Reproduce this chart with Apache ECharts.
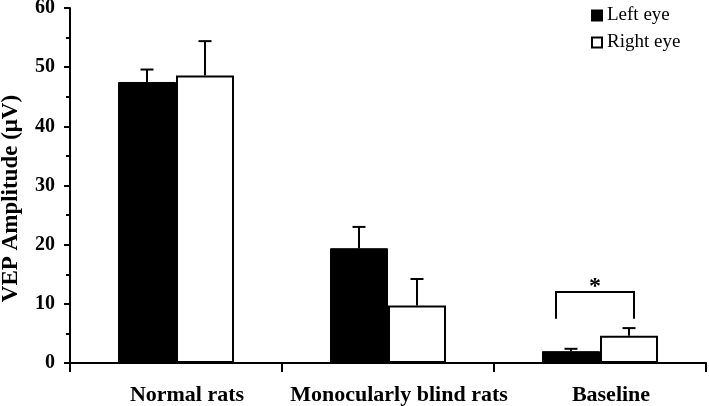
<!DOCTYPE html>
<html>
<head>
<meta charset="utf-8">
<script src="https://cdn.jsdelivr.net/npm/echarts@6/dist/echarts.min.js"></script>
<style>html,body{margin:0;padding:0;background:#fff}#c{width:709px;height:406px}</style>
</head>
<body>
<div id="c"></div>
<script>
var categories = ['Normal rats', 'Monocularly blind rats', 'Baseline'];
var leftEye = [47.5, 19.4, 2.0];
var leftErr = [2.1, 3.6, 0.4];
var rightEye = [48.6, 9.7, 4.6];
var rightErr = [5.8, 4.5, 1.3];
var yTicks = [0, 10, 20, 30, 40, 50, 60];
// significance bracket: [category index, bracket top value, bracket leg bottom value, star value]
var bracket = [[2, 12.0, 7.5, 12.8]];

var FONT = 'Liberation Serif';
var BAR_W = 58;

function errItem(offset) {
  return function (params, api) {
    var i = api.value(0);
    var p0 = api.coord([i, api.value(1)]);
    var p1 = api.coord([i, api.value(1) + api.value(2)]);
    var x = p0[0] + offset;
    return {
      type: 'group',
      children: [
        {type: 'line', shape: {x1: x, y1: p0[1], x2: x, y2: p1[1]}, style: {stroke: '#000', lineWidth: 2}},
        {type: 'line', shape: {x1: x - 6.5, y1: p1[1], x2: x + 6.5, y2: p1[1]}, style: {stroke: '#000', lineWidth: 2}}
      ]
    };
  };
}

var chart = echarts.init(document.getElementById('c'));
chart.setOption({
  animation: false,
  backgroundColor: '#fff',
  grid: {left: 70, right: 3, top: 8, bottom: 43, containLabel: false, outerBoundsMode: 'none'},
  legend: {
    orient: 'vertical',
    left: 591,
    top: 6,
    padding: 0,
    itemWidth: 10,
    itemHeight: 10,
    itemGap: 8,
    icon: 'rect',
    textStyle: {fontFamily: FONT, fontSize: 19, color: '#000'},
    data: ['Left eye', 'Right eye']
  },
  xAxis: {
    type: 'category',
    data: categories,
    axisLine: {lineStyle: {color: '#000', width: 2}},
    axisTick: {show: true, length: 9, interval: 0, lineStyle: {color: '#000', width: 2}},
    axisLabel: {fontFamily: FONT, fontWeight: 'bold', fontSize: 22, color: '#000', margin: 21, interval: 0,
      padding: [0, 0, 0, 22]}
  },
  yAxis: {
    type: 'value',
    min: 0, max: 60, interval: 10,
    name: 'VEP Amplitude (\u03bcV)',
    nameLocation: 'middle',
    nameGap: 47,
    nameTextStyle: {fontFamily: FONT, fontWeight: 'bold', fontSize: 23, color: '#000', padding: [0, 26, 0, 0]},
    axisLine: {show: true, lineStyle: {color: '#000', width: 2}},
    axisTick: {show: true, length: 6, lineStyle: {color: '#000', width: 2}},
    minorTick: {show: true, splitNumber: 2, length: 4, lineStyle: {color: '#000', width: 2}},
    splitLine: {show: false},
    axisLabel: {fontFamily: FONT, fontWeight: 'bold', fontSize: 20, color: '#000', margin: 15,
      formatter: function (v) { return yTicks.indexOf(v) >= 0 ? String(v) : ''; }}
  },
  series: [
    {
      name: 'Left eye', type: 'bar', data: leftEye, barWidth: BAR_W, barGap: '0%',
      itemStyle: {color: '#000', borderColor: '#000', borderWidth: 1}
    },
    {
      name: 'Right eye', type: 'bar', data: rightEye, barWidth: BAR_W, barGap: '0%',
      itemStyle: {color: '#fff', borderColor: '#000', borderWidth: 2}
    },
    {
      type: 'custom', silent: true, z: 5,
      data: categories.map(function (c, i) { return [i, leftEye[i], leftErr[i]]; }),
      renderItem: errItem(-BAR_W / 2)
    },
    {
      type: 'custom', silent: true, z: 5,
      data: categories.map(function (c, i) { return [i, rightEye[i], rightErr[i]]; }),
      renderItem: errItem(BAR_W / 2)
    },
    {
      type: 'custom', silent: true, z: 5,
      data: bracket,
      renderItem: function (params, api) {
        var i = api.value(0);
        var top = api.coord([i, api.value(1)]);
        var bot = api.coord([i, api.value(2)]);
        var star = api.coord([i, api.value(3)]);
        var xl = top[0] - 44, xr = top[0] + 34;
        return {
          type: 'group',
          children: [
            {type: 'polyline', shape: {points: [[xl, bot[1]], [xl, top[1]], [xr, top[1]], [xr, bot[1]]]},
             style: {stroke: '#000', lineWidth: 2, fill: null}},
            {type: 'text', x: star[0] - 5, y: star[1],
             style: {text: '*', fontFamily: FONT, fontWeight: 'bold', fontSize: 24, fill: '#000', align: 'center', verticalAlign: 'middle'}}
          ]
        };
      }
    }
  ]
});
</script>
</body>
</html>
